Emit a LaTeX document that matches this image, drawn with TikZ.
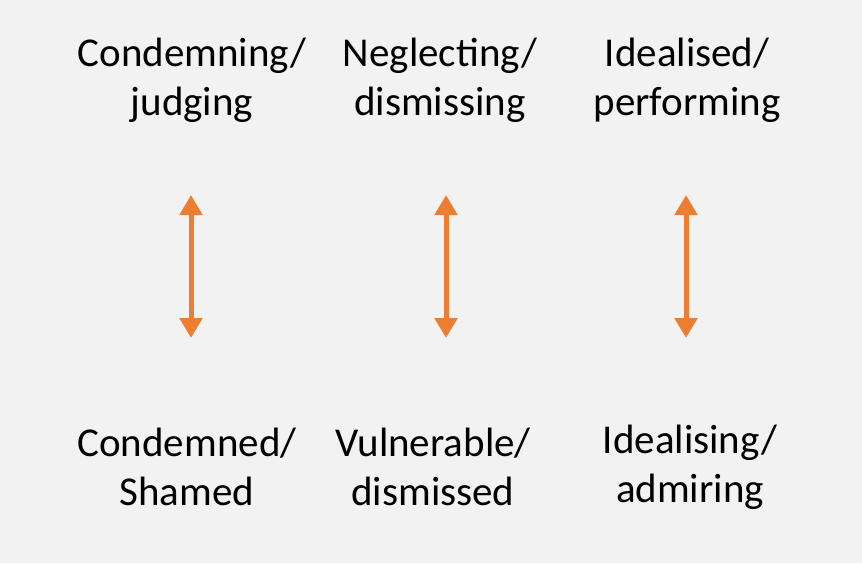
\documentclass[tikz,border=0pt]{standalone}
\usepackage{fontspec}
\setmainfont{Carlito}
\usetikzlibrary{arrows.meta}
\definecolor{bg}{HTML}{F2F2F2}
\definecolor{org}{HTML}{ED7D31}
\begin{document}
\begin{tikzpicture}[x=1pt,y=-1pt,
  lbl/.style={align=center,font=\fontsize{41}{49}\selectfont,text=black,inner sep=0},
  dbl/.style={org,line width=5pt,{Triangle[width=22pt,length=20pt]}-{Triangle[width=22pt,length=20pt]}}]
\fill[bg] (0,0) rectangle (862,563);
\useasboundingbox (0,0) rectangle (862,563);
\node[lbl] (t1) at (192,80) {Condemning/\\judging};
\node[lbl] (t2) at (440,80) {Neglecting/\\dismissing};
\node[lbl] (t3) at (687,80) {Idealised/\\performing};
\node[lbl] (b1) at (187,467) {Condemned/\\Shamed};
\node[lbl] (b2) at (433,467) {Vulnerable/\\dismissed};
\node[lbl] (b3) at (690,467) {Idealising/\\admiring};
\coordinate (u1) at (191,195); \coordinate (d1) at (191,338);
\coordinate (u2) at (446,195); \coordinate (d2) at (446,338);
\coordinate (u3) at (686,195); \coordinate (d3) at (686,338);
\draw[dbl] (u1) -- (d1);
\draw[dbl] (u2) -- (d2);
\draw[dbl] (u3) -- (d3);
\end{tikzpicture}
\end{document}
